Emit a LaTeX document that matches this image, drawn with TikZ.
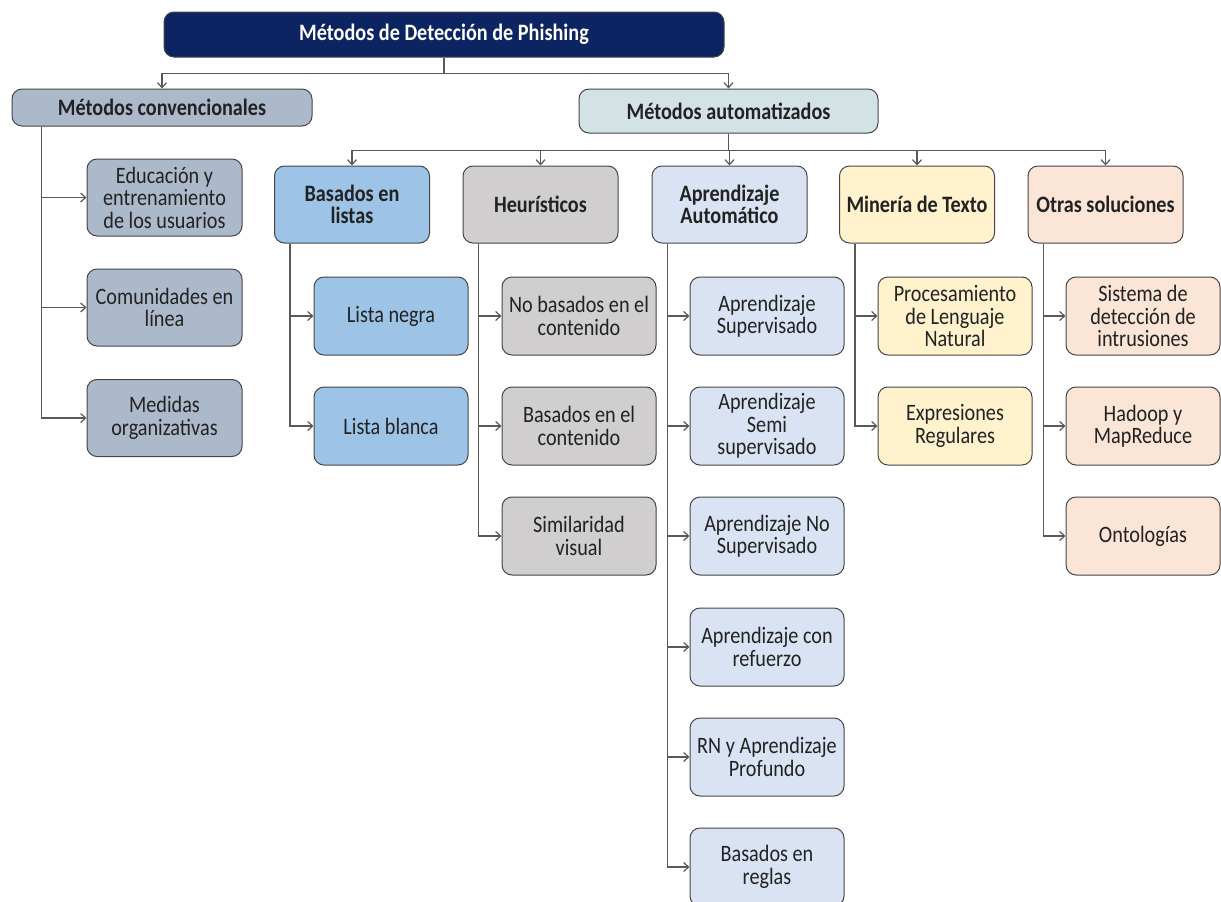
\documentclass[tikz,border=0pt]{standalone}
\usepackage{fontspec}
\setmainfont{Carlito}[FakeStretch=0.86]
\usepackage{tikz}
\usetikzlibrary{arrows.meta}

\definecolor{navy}{HTML}{0C2461}
\definecolor{convfill}{HTML}{ACB9CA}
\definecolor{autofill}{HTML}{D3E2E5}
\definecolor{listfill}{HTML}{9DC3E6}
\definecolor{heurfill}{HTML}{D0CECE}
\definecolor{aprfill}{HTML}{DAE3F3}
\definecolor{minfill}{HTML}{FFF2CC}
\definecolor{otrfill}{HTML}{FBE5D6}
\definecolor{boxline}{HTML}{454545}
\definecolor{linegray}{HTML}{595959}
\definecolor{txt}{HTML}{222222}

\begin{document}
\begin{tikzpicture}[x=1pt, y=-1pt,
		every node/.style={draw=boxline, rounded corners=10pt, line width=1pt, align=center, inner sep=2pt, text=txt, font=\fontsize{23.5}{22.5}\selectfont},
		head/.style={font=\fontsize{23.5}{22.5}\selectfont\bfseries},
		group/.style={head, minimum width=155pt, minimum height=77pt},
		leaf/.style={minimum width=154pt, minimum height=78pt},
		link/.style={draw=linegray, line width=1.2pt, -{Straight Barb[length=5pt,width=9pt]}},
		]
		\useasboundingbox (0,0) rectangle (1221,902);
		
		\node[head, fill=navy, text=white, minimum width=560pt, minimum height=45pt] (root) at (444,34.5) {Métodos de Detección de Phishing};
		
		\node[head, fill=convfill, minimum width=300pt, minimum height=37pt] (conv) at (162,107.5) {Métodos convencionales};
		\node[head, fill=autofill, minimum width=299pt, minimum height=44pt] (auto) at (728.5,111) {Métodos automatizados};
		
		\node[leaf, fill=convfill, minimum width=155pt, minimum height=77pt] (edu) at (164.5,197.5) {Educación y\\entrenamiento\\de los usuarios};
		\node[leaf, fill=convfill, minimum width=155pt, minimum height=77pt] (comun) at (164.5,307.5) {Comunidades en\\línea};
		\node[leaf, fill=convfill, minimum width=155pt, minimum height=77pt] (medidas) at (164.5,418) {Medidas\\organizativas};
		
		\node[group, fill=listfill] (listas) at (352,204.5) {Basados en\\listas};
		\node[group, fill=heurfill] (heur) at (540.5,204.5) {Heurísticos};
		\node[group, fill=aprfill] (aprend) at (729.5,204.5) {Aprendizaje\\Automático};
		\node[group, fill=minfill] (mineria) at (917,204.5) {Minería de Texto};
		\node[group, fill=otrfill] (otras) at (1105.5,204.5) {Otras soluciones};
		
		\node[leaf, fill=listfill] (negra) at (391,316) {Lista negra};
		\node[leaf, fill=listfill] (blanca) at (391,426) {Lista blanca};
		
		\node[leaf, fill=heurfill] (nobas) at (579,316) {No basados en el\\contenido};
		\node[leaf, fill=heurfill] (bascont) at (579,426) {Basados en el\\contenido};
		\node[leaf, fill=heurfill] (simil) at (579,536) {Similaridad\\visual};
		
		\node[leaf, fill=aprfill] (sup) at (767,316) {Aprendizaje\\Supervisado};
		\node[leaf, fill=aprfill] (semi) at (767,426) {Aprendizaje\\Semi\\supervisado};
		\node[leaf, fill=aprfill] (nosup) at (767,536) {Aprendizaje No\\Supervisado};
		\node[leaf, fill=aprfill] (refuerzo) at (767,647) {Aprendizaje con\\refuerzo};
		\node[leaf, fill=aprfill] (rn) at (767,757) {RN y Aprendizaje\\Profundo};
		\node[leaf, fill=aprfill] (reglas) at (767,867) {Basados en\\reglas};
		
		\node[leaf, fill=minfill] (pln) at (955,316) {Procesamiento\\de Lenguaje\\Natural};
		\node[leaf, fill=minfill] (regex) at (955,426) {Expresiones\\Regulares};
		
		\node[leaf, fill=otrfill] (ids) at (1143,316) {Sistema de\\detección de\\intrusiones};
		\node[leaf, fill=otrfill] (hadoop) at (1143,426) {Hadoop y\\MapReduce};
		\node[leaf, fill=otrfill] (onto) at (1143,536) {Ontologías};
		
		\draw[link] (root.south) -- ++(0,16) -| (conv.north);
		\draw[link] (root.south) -- ++(0,16) -| (auto.north);
		
		\draw[link] ([xshift=30pt]conv.south west) |- (edu.west);
		\draw[link] ([xshift=30pt]conv.south west) |- (comun.west);
		\draw[link] ([xshift=30pt]conv.south west) |- (medidas.west);
		
		\draw[link] (auto.south) -- ++(0,17) -| (listas.north);
		\draw[link] (auto.south) -- ++(0,17) -| (heur.north);
		\draw[link] (auto.south) -- ++(0,17) -| (aprend.north);
		\draw[link] (auto.south) -- ++(0,17) -| (mineria.north);
		\draw[link] (auto.south) -- ++(0,17) -| (otras.north);
		
		\draw[link] ([xshift=16pt]listas.south west) |- (negra.west);
		\draw[link] ([xshift=16pt]listas.south west) |- (blanca.west);
		
		\draw[link] ([xshift=16pt]heur.south west) |- (nobas.west);
		\draw[link] ([xshift=16pt]heur.south west) |- (bascont.west);
		\draw[link] ([xshift=16pt]heur.south west) |- (simil.west);
		
		\draw[link] ([xshift=16pt]aprend.south west) |- (sup.west);
		\draw[link] ([xshift=16pt]aprend.south west) |- (semi.west);
		\draw[link] ([xshift=16pt]aprend.south west) |- (nosup.west);
		\draw[link] ([xshift=16pt]aprend.south west) |- (refuerzo.west);
		\draw[link] ([xshift=16pt]aprend.south west) |- (rn.west);
		\draw[link] ([xshift=16pt]aprend.south west) |- (reglas.west);
		
		\draw[link] ([xshift=16pt]mineria.south west) |- (pln.west);
		\draw[link] ([xshift=16pt]mineria.south west) |- (regex.west);
		
		\draw[link] ([xshift=16pt]otras.south west) |- (ids.west);
		\draw[link] ([xshift=16pt]otras.south west) |- (hadoop.west);
		\draw[link] ([xshift=16pt]otras.south west) |- (onto.west);
\end{tikzpicture}
\end{document}
